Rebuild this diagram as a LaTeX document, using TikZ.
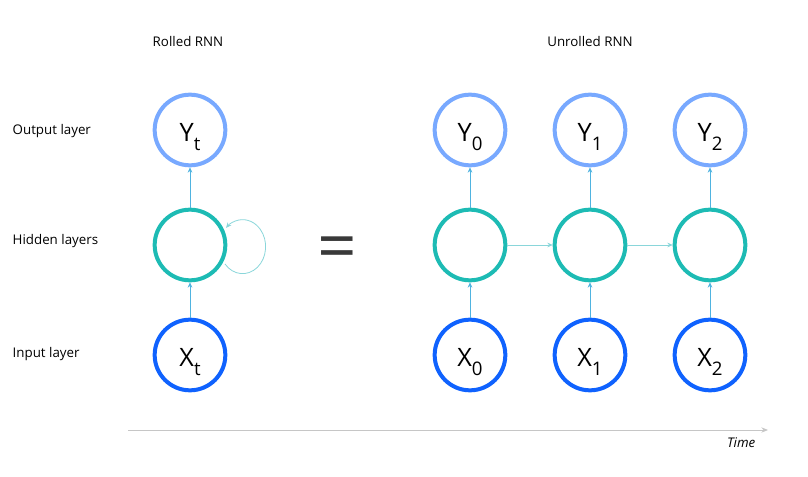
\documentclass[tikz,border=0pt]{standalone}
\usepackage{fontspec}
\setmainfont{Open Sans}
\usepackage{tikz}
\usetikzlibrary{arrows.meta, positioning}
\definecolor{outblue}{HTML}{78A9FF}
\definecolor{hidteal}{HTML}{1DBBB4}
\definecolor{inblue}{HTML}{0F62FE}
\definecolor{linkblue}{HTML}{4FB3E0}
\definecolor{linkteal}{HTML}{8AD6DA}
\definecolor{axisgray}{HTML}{C6C6C6}
\definecolor{eqgray}{HTML}{393939}

\newcommand{\unit}[2]{\raisebox{-3pt}{#1\raisebox{-0.7ex}{\fontsize{14}{14}\selectfont #2}}}

\begin{document}
\begin{tikzpicture}[
    x=0.75pt, y=0.75pt,
    % Styles
    neuron/.style={circle, minimum size=53pt, inner sep=0pt, line width=3pt, fill=white, text depth=0pt, font=\fontsize{19}{19}\selectfont},
    outnode/.style={neuron, draw=outblue},
    hidnode/.style={neuron, draw=hidteal},
    innode/.style={neuron, draw=inblue},
    layerlbl/.style={anchor=west, font=\fontsize{10}{12}\selectfont},
    titlelbl/.style={font=\fontsize{10}{12}\selectfont},
    uparrow/.style={-{Stealth[length=4pt, width=3.5pt]}, line width=0.6pt, draw=linkblue},
    sidearrow/.style={-{Stealth[length=4pt, width=3.5pt]}, line width=0.6pt, draw=linkteal},
    recur/.style={-{Stealth[length=4pt, width=3.5pt]}, line width=0.6pt, draw=linkteal}
]
\useasboundingbox (0,0) rectangle (808,476);

% TITLES
\node[titlelbl] (rolled) at (188,434) {Rolled RNN};
\node[titlelbl] (unrolled) at (590,434) {Unrolled RNN};

% LAYER LABELS
\node[layerlbl] (lout) at (8,345) {Output layer};
\node[layerlbl] (lhid) at (8,235) {Hidden layers};
\node[layerlbl] (lin) at (8,122) {Input layer};

% 1. ROLLED RNN
\node[outnode] (yt) at (190,346) {\unit{Y}{t}};
\node[hidnode] (ht) at (190,231) {};
\node[innode] (xt) at (190,121) {\unit{X}{t}};

\draw[uparrow] (ht) -- (yt);
\draw[uparrow] (xt) -- (ht);
\coordinate (loopin) at ([shift={(35,-19)}]ht.center);
\draw[recur] (loopin) arc[start angle=-140, end angle=136, x radius=23, y radius=27];

% EQUALS
\node[font=\fontsize{52}{52}\selectfont, text=eqgray] (eq) at (337,222) {=};

% 2. UNROLLED RNN
\foreach \i/\xp in {0/470, 1/590, 2/710} {
    \node[outnode] (y\i) at (\xp,346) {\unit{Y}{\i}};
    \node[hidnode] (h\i) at (\xp,231) {};
    \node[innode] (x\i) at (\xp,121) {\unit{X}{\i}};
    \draw[uparrow] (h\i) -- (y\i);
    \draw[uparrow] (x\i) -- (h\i);
}
\draw[sidearrow] (h0) -- (h1);
\draw[sidearrow] (h1) -- (h2);

% TIME AXIS
\coordinate (tstart) at (128,46);
\coordinate (tend) at (768,46);
\draw[-{Stealth[length=5pt, width=4pt]}, line width=0.7pt, draw=axisgray] (tstart) -- (tend);
\node[anchor=north east, font=\fontsize{10}{12}\selectfont\itshape] (time) at ([xshift=-6pt, yshift=-2pt]tend) {Time};

\end{tikzpicture}
\end{document}
